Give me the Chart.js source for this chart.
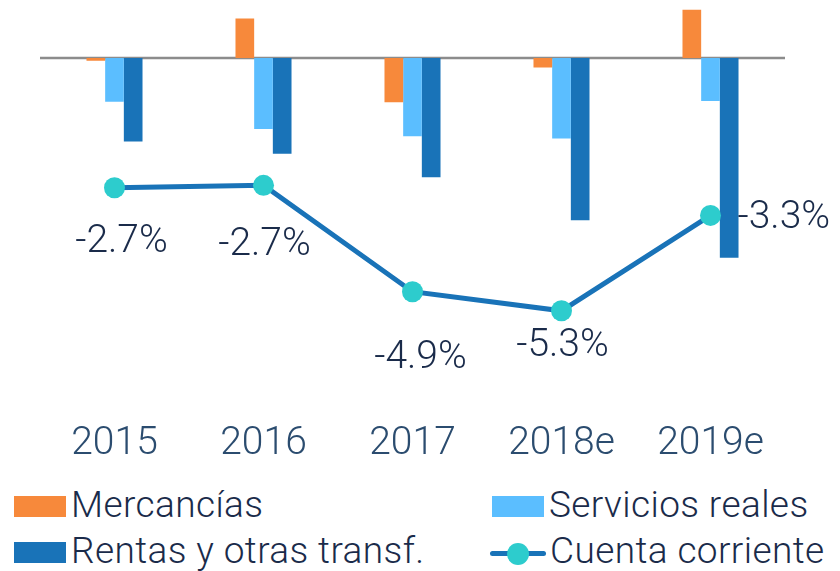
<!DOCTYPE html>
<html>
<head>
<meta charset="utf-8">
<script src="https://cdn.jsdelivr.net/npm/chart.js@4/dist/chart.umd.min.js"></script>
<style>
  html, body { margin: 0; padding: 0; background: #fff; }
  #wrap { position: relative; width: 840px; height: 571px; overflow: hidden; }
  #box { position: absolute; left: 0; top: 0; width: 840px; height: 470px; }
  .item { position: absolute; font: 300 37px Roboto, sans-serif; letter-spacing: 0.4px; line-height: 41px; color: #1a2b4a; white-space: nowrap; }
  .sw { position: absolute; }
</style>
</head>
<body>
<div id="wrap">
  <div id="box"><canvas id="bar-chart"></canvas></div>
  <div id="legend"></div>
</div>
<script>
// datos (% del PIB)
var years = ['2015', '2016', '2017', '2018e', '2019e'];
var mercancias = [-0.06, 0.83, -0.93, -0.20, 1.01];
var servicios = [-0.92, -1.49, -1.64, -1.69, -0.90];
var rentas = [-1.75, -2.01, -2.50, -3.40, -4.19];
var cuenta = [-2.72, -2.67, -4.9, -5.3, -3.3];

var txtColor = '#1a2b4a';

// linea del cero
var zeroLine = {
  id: 'zeroLine',
  beforeDatasetsDraw: function(chart) {
    var ctx = chart.ctx, a = chart.chartArea;
    var y = chart.scales.y.getPixelForValue(0);
    ctx.save();
    ctx.strokeStyle = '#8c8c8c';
    ctx.lineWidth = 2.5;
    ctx.beginPath();
    ctx.moveTo(a.left, y);
    ctx.lineTo(a.right, y);
    ctx.stroke();
    ctx.restore();
  }
};

// etiquetas de la cuenta corriente
var lineLabels = {
  id: 'lineLabels',
  afterDatasetsDraw: function(chart) {
    var ctx = chart.ctx;
    var meta = chart.getDatasetMeta(3);
    // desplazamiento [dx, dy, align] respecto al punto
    var offs = [[7, 64, 'center'], [1, 70, 'center'], [8, 76, 'center'], [1, 45, 'center'], [27, 13, 'left']];
    ctx.save();
    ctx.font = '300 39px Roboto, sans-serif';
    ctx.fillStyle = txtColor;
    ctx.textBaseline = 'alphabetic';
    meta.data.forEach(function(pt, i) {
      var o = offs[i];
      ctx.textAlign = o[2];
      ctx.fillText(cuenta[i].toFixed(1) + '%', pt.x + o[0], pt.y + o[1]);
    });
    ctx.restore();
  }
};

var chart = new Chart(document.getElementById('bar-chart'), {
  type: 'bar',
  data: {
    labels: years,
    datasets: [
      { label: 'Mercancías', data: mercancias, backgroundColor: '#F7893B', order: 1,
        barPercentage: 1, categoryPercentage: 0.376 },
      { label: 'Servicios reales', data: servicios, backgroundColor: '#5BBEFF', order: 1,
        barPercentage: 1, categoryPercentage: 0.376 },
      { label: 'Rentas y otras transf.', data: rentas, backgroundColor: '#1973B8', order: 1,
        barPercentage: 1, categoryPercentage: 0.376 },
      { label: 'Cuenta corriente', type: 'line', data: cuenta, order: 0,
        borderColor: '#1973B8', borderWidth: 5, tension: 0,
        pointRadius: 10.5, pointHoverRadius: 10.5, pointBorderWidth: 0,
        pointBackgroundColor: '#2DCCCD' }
    ]
  },
  options: {
    responsive: true,
    maintainAspectRatio: false,
    animation: false,
    layout: { autoPadding: false, padding: { top: 5.5, bottom: 2.4, left: 40, right: 55 } },
    plugins: { legend: { display: false }, tooltip: { enabled: false } },
    scales: {
      x: {
        grid: { display: false, drawTicks: false },
        border: { display: false },
        ticks: { color: '#2b4c6f', padding: 0,
          font: { family: 'Roboto', size: 39, weight: 300, lineHeight: 1.2 } }
      },
      y: { display: false, min: -7.606, max: 1.1 }
    }
  },
  plugins: [zeroLine, lineLabels]
});

// leyenda en dos columnas
var pos = [[14, 484], [492, 484], [14, 530], [490, 530]];
var html = '';
chart.data.datasets.forEach(function(ds, i) {
  var p = pos[i], sw;
  if (ds.type === 'line') {
    sw = '<div class="sw" style="left:0;top:21px;width:56px;height:5px;border-radius:3px;background:' + ds.borderColor + '"></div>' +
         '<div class="sw" style="left:17px;top:12.5px;width:22px;height:22px;border-radius:50%;background:' + ds.pointBackgroundColor + '"></div>';
  } else {
    sw = '<div class="sw" style="left:0;top:12px;width:52px;height:21px;background:' + ds.backgroundColor + '"></div>';
  }
  var tx = ds.type === 'line' ? 60 : 57;
  html += '<div class="item" style="left:' + p[0] + 'px;top:' + p[1] + 'px">' + sw +
          '<span style="position:absolute;left:' + tx + 'px;top:0">' + ds.label + '</span></div>';
});
document.getElementById('legend').innerHTML = html;
</script>
</body>
</html>
